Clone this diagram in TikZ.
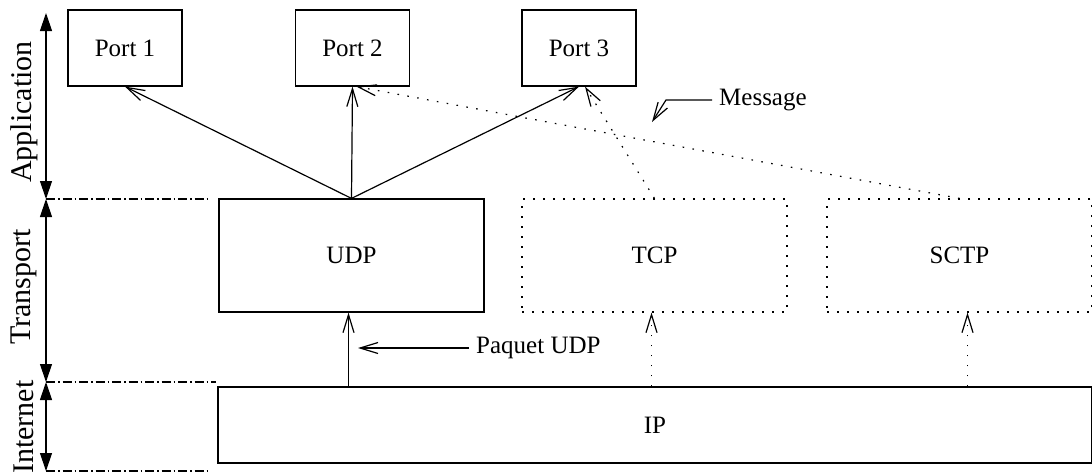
\documentclass[tikz,border=0pt]{standalone}
\usepackage{fontspec}
\setmainfont{Liberation Serif}
\usetikzlibrary{arrows.meta}

\begin{document}
\begin{tikzpicture}[
    x=1pt, y=-1pt,
    % dobozok a protokollokhoz
    box/.style={draw, line width=1.2pt, minimum width=#1, minimum height=113pt,
        inner sep=0pt, font=\fontsize{25}{29}\selectfont},
    box/.default=265pt,
    dotbox/.style={box=#1, dash pattern=on 1.6pt off 8.4pt},
    dotbox/.default=265pt,
    portbox/.style={box=114pt, minimum height=76pt},
    % nyilak
    flow/.style={-{Straight Barb[length=18pt,width=11pt]}, line width=1.2pt},
    dotflow/.style={flow, dash pattern=on 1.6pt off 8.4pt},
    layer/.style={{Triangle[length=18pt,width=12pt]}-{Triangle[length=18pt,width=12pt]}, line width=1.2pt},
    divider/.style={line width=1.2pt, dash pattern=on 9pt off 3pt on 1.5pt off 3pt},
    label/.style={inner sep=7pt, font=\fontsize{25}{29}\selectfont},
    side/.style={rotate=90, inner sep=0pt, font=\fontsize{30}{34}\selectfont}
]
    \useasboundingbox (0,0) rectangle (1092,475);

    % Portok
    \node[portbox] (port1) at (125,48) {Port 1};
    \node[portbox] (port2) at (352.5,48) {Port 2};
    \node[portbox] (port3) at (579,48) {Port 3};

    % Transport réteg
    \node[box] (udp) at (351.5,255.5) {UDP};
    \node[dotbox] (tcp) at (654.5,255.5) {TCP};
    \node[dotbox] (sctp) at (959.5,255.5) {SCTP};

    % Internet réteg
    \node[box=874pt, minimum height=76pt] (ip) at (655,425) {IP};

    % UDP -> portok
    \draw[flow] (udp.north) -- (port1.south);
    \draw[flow] (udp.north) -- (port2.south);
    \draw[flow] (udp.north) -- (port3.south);

    % TCP, SCTP -> portok (pontozott)
    \draw[dotflow] (sctp.north) -- ([xshift=4pt]port2.south);
    \draw[dotflow] (tcp.north) -- ([xshift=6pt]port3.south);

    % IP -> transport
    \draw[flow] ([xshift=-3pt]udp.south |- ip.north) -- ([xshift=-3pt]udp.south);
    \draw[dotflow] ([xshift=-3pt]tcp.south |- ip.north) -- ([xshift=-3pt]tcp.south);
    \draw[dotflow] ([xshift=8pt]sctp.south |- ip.north) -- ([xshift=8pt]sctp.south);

    % Feliratok
    \node[label, anchor=west] (msg) at (712,100) {Message};
    \coordinate (msgbend) at (666,100);
    \coordinate (msgtip) at (652,122);
    \draw[flow] (msg.west) -- (msgbend) -- (msgtip);

    \node[label, anchor=west] (paq) at (469,348) {Paquet UDP};
    \coordinate (paqtip) at (358,348);
    \draw[flow] (paq.west) -- (paqtip);

    % Rétegek a bal oldalon
    \coordinate (appTop) at (46,13);
    \coordinate (trTop) at (46,199);
    \coordinate (inTop) at (46,382);
    \coordinate (inBot) at (46,471);
    \draw[layer] (appTop) -- (trTop);
    \draw[layer] (trTop) -- (inTop);
    \draw[layer] (inTop) -- (inBot);

    \draw[divider] (trTop) -- (210,199);
    \draw[divider] (inTop) -- (216,382);
    \draw[divider] (inBot) -- (210,471);

    \node[side] (app) at (24,112) {Application};
    \node[side] (tr) at (24,287) {Transport};
    \node[side] (inet) at (24,427) {Internet};
\end{tikzpicture}
\end{document}
